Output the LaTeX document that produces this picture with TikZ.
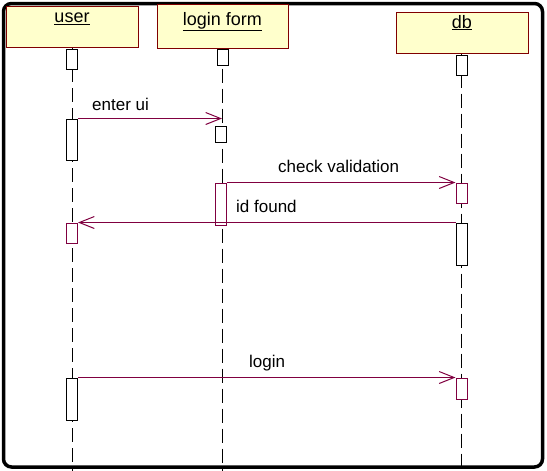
\documentclass[tikz,border=0pt]{standalone}
\usepackage{fontspec}
\setmainfont{Liberation Sans}
\usetikzlibrary{arrows.meta}
\definecolor{hdrfill}{RGB}{255,255,204}
\definecolor{hdrline}{RGB}{128,0,0}
\definecolor{msg}{RGB}{128,0,64}
\begin{document}
\begin{tikzpicture}[x=1pt,y=-1pt,
  hdr/.style={draw=hdrline, fill=hdrfill, line width=1pt, inner sep=0pt},
  hdrtext/.style={font=\fontsize{18}{20}\selectfont, anchor=base, inner sep=0pt},
  act/.style={draw=black, fill=white, line width=1pt, minimum width=11pt, inner sep=0pt},
  actm/.style={act, draw=msg},
  life/.style={draw=black, line width=1pt, dash pattern=on 14pt off 6pt},
  msgline/.style={draw=msg, line width=1pt, -{Straight Barb[length=15pt,width=12pt]}},
  msgtext/.style={font=\fontsize{17}{20}\selectfont, anchor=base west, inner sep=0pt},
  frame/.style={draw=black, line width=3.5pt, rounded corners=8pt}]

\useasboundingbox (0,0) rectangle (547,471);
\draw[frame] (3.5,3.5) rectangle (542.5,467);

% lifeline heads
\node[hdr, minimum width=132pt, minimum height=41.5pt] (user) at (72,26.75) {};
\node[hdr, minimum width=131pt, minimum height=43.5pt] (login) at (222.5,26.25) {};
\node[hdr, minimum width=132pt, minimum height=41pt] (db) at (462,32.5) {};
\node[hdrtext] (usertext) at (72,23) {\underline{user}};
\node[hdrtext] (logintext) at (222.5,25) {\underline{login form}};
\node[hdrtext] (dbtext) at (462,28) {\underline{db}};

% lifelines
\coordinate (userend) at (72,471);
\coordinate (loginend) at (222,471);
\coordinate (dbend) at (461.5,471);
\draw[life] (user.south -| userend) -- (userend);
\draw[life] (login.south -| loginend) -- (loginend);
\draw[life] (db.south -| dbend) -- (dbend);

% activations
\node[act, minimum height=20pt] (u1) at (72,59) {};
\node[act, minimum height=41pt] (u2) at (72,139.5) {};
\node[actm, minimum height=20pt] (u3) at (72,233) {};
\node[act, minimum height=42pt] (u4) at (72,399) {};
\node[act, minimum height=16pt] (lf1) at (222.5,57) {};
\node[act, minimum height=16pt] (lf2) at (221,134) {};
\node[actm, minimum height=42pt] (lf3) at (221,204) {};
\node[act, minimum height=20pt] (db1) at (461.5,65) {};
\node[actm, minimum height=20pt] (db2) at (461.5,193) {};
\node[act, minimum height=42pt] (db3) at (461.5,244) {};
\node[actm, minimum height=21pt] (db4) at (461.5,388.5) {};

% messages
\coordinate (uiend) at (u2.north east -| loginend);
\draw[msgline] (u2.north east) -- (uiend);
\draw[msgline] (lf3.north east) -- (db2.north west);
\draw[msgline] (db3.north west) -- (u3.north east);
\draw[msgline] (u4.north east) -- (db4.north west);

\node[msgtext] (m1) at (92,110) {enter ui};
\node[msgtext] (m2) at (278,172) {check validation};
\node[msgtext] (m3) at (236,212) {id found};
\node[msgtext] (m4) at (249,367) {login};
\end{tikzpicture}
\end{document}
